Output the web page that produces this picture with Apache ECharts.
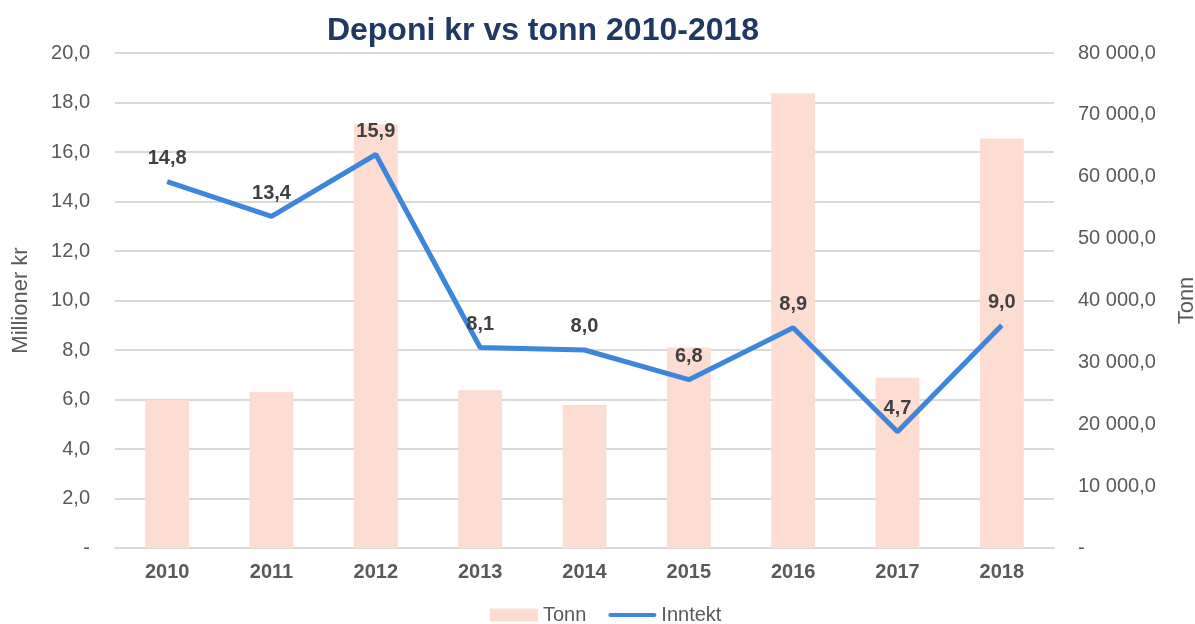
<!DOCTYPE html>
<html><head><meta charset="utf-8">
<script src="https://cdn.jsdelivr.net/npm/echarts@6/dist/echarts.min.js"></script>
<style>html,body{margin:0;padding:0;background:#fff}#c{width:1195px;height:624px}</style>
</head><body><div id="c"></div>
<script>
const categories = ['2010','2011','2012','2013','2014','2015','2016','2017','2018'];
const tonn = [23900, 25200, 68500, 25500, 23100, 32400, 73500, 27500, 66200];
const inntekt = [14.8, 13.4, 15.9, 8.1, 8.0, 6.8, 8.9, 4.7, 9.0];
const titleText = 'Deponi kr vs tonn 2010-2018';
const leftName = 'Millioner kr';
const rightName = 'Tonn';

const font = 'Arial, "Liberation Sans", sans-serif';
const lineColor = '#3c86dc';
function fmtLeft(v){ return v === 0 ? '-' : v.toFixed(1).replace('.', ','); }
function fmtRight(v){
  if (v === 0) return '-';
  const s = Math.round(v).toString().replace(/\B(?=(\d{3})+(?!\d))/g, ' ');
  return s + ',0';
}
const chart = echarts.init(document.getElementById('c'));
chart.setOption({
  animation: false,
  textStyle: { fontFamily: font },
  title: { text: titleText, left: 538, textAlign: 'center', top: 10,
    textStyle: { fontFamily: font, fontSize: 32, fontWeight: 'bold', color: '#1f3864' } },
  grid: { left: 115, right: 141, top: 53, bottom: 76, containLabel: false, outerBoundsMode: 'none' },
  legend: { top: 605, left: 490, itemWidth: 48, itemHeight: 13, itemGap: 22, padding: 0,
    textStyle: { fontFamily: font, fontSize: 20, color: '#595959' },
    data: [
      { name: 'Tonn', icon: 'rect' },
      { name: 'Inntekt', icon: 'path://M2,0 L46,0 A2,2 0 0 1 46,4 L2,4 A2,2 0 0 1 2,0 Z', itemStyle: { color: lineColor } }
    ] },
  xAxis: { type: 'category', data: categories,
    axisLine: { lineStyle: { color: '#d9d9d9', width: 2 } }, axisTick: { show: false },
    axisLabel: { fontFamily: font, fontSize: 20, fontWeight: 'bold', color: '#595959', margin: 14 } },
  yAxis: [
    { type: 'value', min: 0, max: 20, interval: 2, name: leftName, nameLocation: 'middle', nameGap: 83,
      nameTextStyle: { fontFamily: font, fontSize: 22, color: '#595959' },
      axisLine: { show: false }, axisTick: { show: false },
      splitLine: { lineStyle: { color: '#d9d9d9', width: 2 } },
      axisLabel: { formatter: fmtLeft, fontFamily: font, fontSize: 20, color: '#595959', margin: 25 } },
    { type: 'value', min: 0, max: 80000, interval: 10000, name: rightName, nameLocation: 'middle', nameGap: 122,
      nameTextStyle: { fontFamily: font, fontSize: 22, color: '#595959' },
      axisLine: { show: false }, axisTick: { show: false }, splitLine: { show: false },
      axisLabel: { formatter: fmtRight, fontFamily: font, fontSize: 20, color: '#595959', margin: 24 } }
  ],
  series: [
    { name: 'Tonn', type: 'bar', yAxisIndex: 1, data: tonn, barWidth: '42%',
      itemStyle: { color: '#fddcd2' } },
    { name: 'Inntekt', type: 'line', yAxisIndex: 0, data: inntekt, symbol: 'circle', symbolSize: 0.1, showSymbol: true,
      lineStyle: { color: lineColor, width: 5 }, itemStyle: { color: lineColor },
      label: { show: true, position: 'top', distance: 13, formatter: p => p.value.toFixed(1).replace('.', ','),
        fontFamily: font, fontSize: 20, fontWeight: 'bold', color: '#404040' } }
  ]
});
</script></body></html>
